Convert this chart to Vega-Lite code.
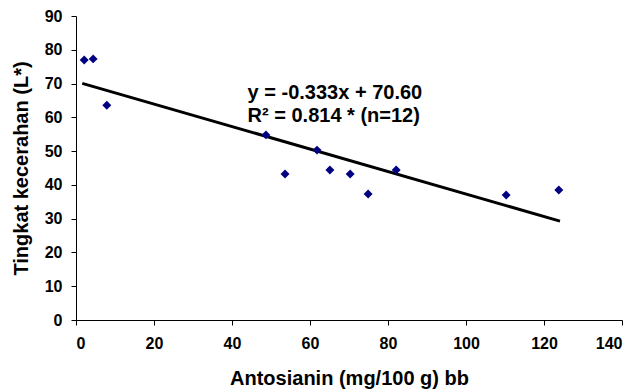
{
  "$schema": "https://vega.github.io/schema/vega-lite/v6.json",
  "width": 546,
  "height": 304,
  "autosize": {"type": "none"},
  "padding": {"left": 76, "top": 16, "right": 16, "bottom": 70},
  "background": "white",
  "config": {
    "view": {"stroke": null},
    "font": "Liberation Sans"
  },
  "datasets": {
    "points": [
      {"x": 2.1, "y": 77.0},
      {"x": 4.4, "y": 77.3},
      {"x": 7.9, "y": 63.6},
      {"x": 48.7, "y": 54.8},
      {"x": 53.6, "y": 43.2},
      {"x": 61.8, "y": 50.3},
      {"x": 65.1, "y": 44.4},
      {"x": 70.3, "y": 43.2},
      {"x": 74.9, "y": 37.3},
      {"x": 82.1, "y": 44.4},
      {"x": 110.3, "y": 37.0},
      {"x": 123.8, "y": 38.5}
    ],
    "trend": [
      {"x": 1.6, "y": 70.07},
      {"x": 124.1, "y": 29.27}
    ],
    "labels": [
      {"x": 44.0, "y": 67.2, "text": "y = -0.333x + 70.60"},
      {"x": 44.0, "y": 60.4, "text": "R² = 0.814 * (n=12)"}
    ]
  },
  "encoding": {
    "x": {
      "field": "x", "type": "quantitative",
      "scale": {"domain": [0, 140], "nice": false, "zero": true},
      "axis": {
        "values": [0, 20, 40, 60, 80, 100, 120, 140],
        "title": "Antosianin (mg/100 g) bb",
        "grid": false, "domainColor": "black", "tickColor": "black", "tickSize": 5,
        "labelColor": "black", "labelFont": "Liberation Sans", "labelFontSize": 16, "labelFontWeight": "bold",
        "labelOverlap": false, "labelPadding": 10,
        "titleColor": "black", "titleFont": "Liberation Sans", "titleFontSize": 20, "titleFontWeight": "bold", "titlePadding": 17
      }
    },
    "y": {
      "field": "y", "type": "quantitative",
      "scale": {"domain": [0, 90], "nice": false},
      "axis": {
        "values": [0, 10, 20, 30, 40, 50, 60, 70, 80, 90],
        "title": "Tingkat kecerahan (L*)",
        "grid": false, "domainColor": "black", "tickColor": "black", "tickSize": 5,
        "labelColor": "black", "labelFont": "Liberation Sans", "labelFontSize": 16, "labelFontWeight": "bold",
        "labelOverlap": false, "labelPadding": 9,
        "titleColor": "black", "titleFont": "Liberation Sans", "titleFontSize": 20, "titleFontWeight": "bold", "titlePadding": 13
      }
    }
  },
  "layer": [
    {
      "data": {"name": "trend"},
      "mark": {"type": "line", "color": "black", "strokeWidth": 3}
    },
    {
      "data": {"name": "points"},
      "mark": {"type": "point", "shape": "diamond", "filled": true, "color": "#000080", "size": 80, "opacity": 1}
    },
    {
      "data": {"name": "labels"},
      "mark": {"type": "text", "align": "left", "baseline": "middle", "fontSize": 20, "fontWeight": "bold", "color": "black", "font": "Liberation Sans"},
      "encoding": {
        "text": {"field": "text"}
      }
    }
  ]
}
